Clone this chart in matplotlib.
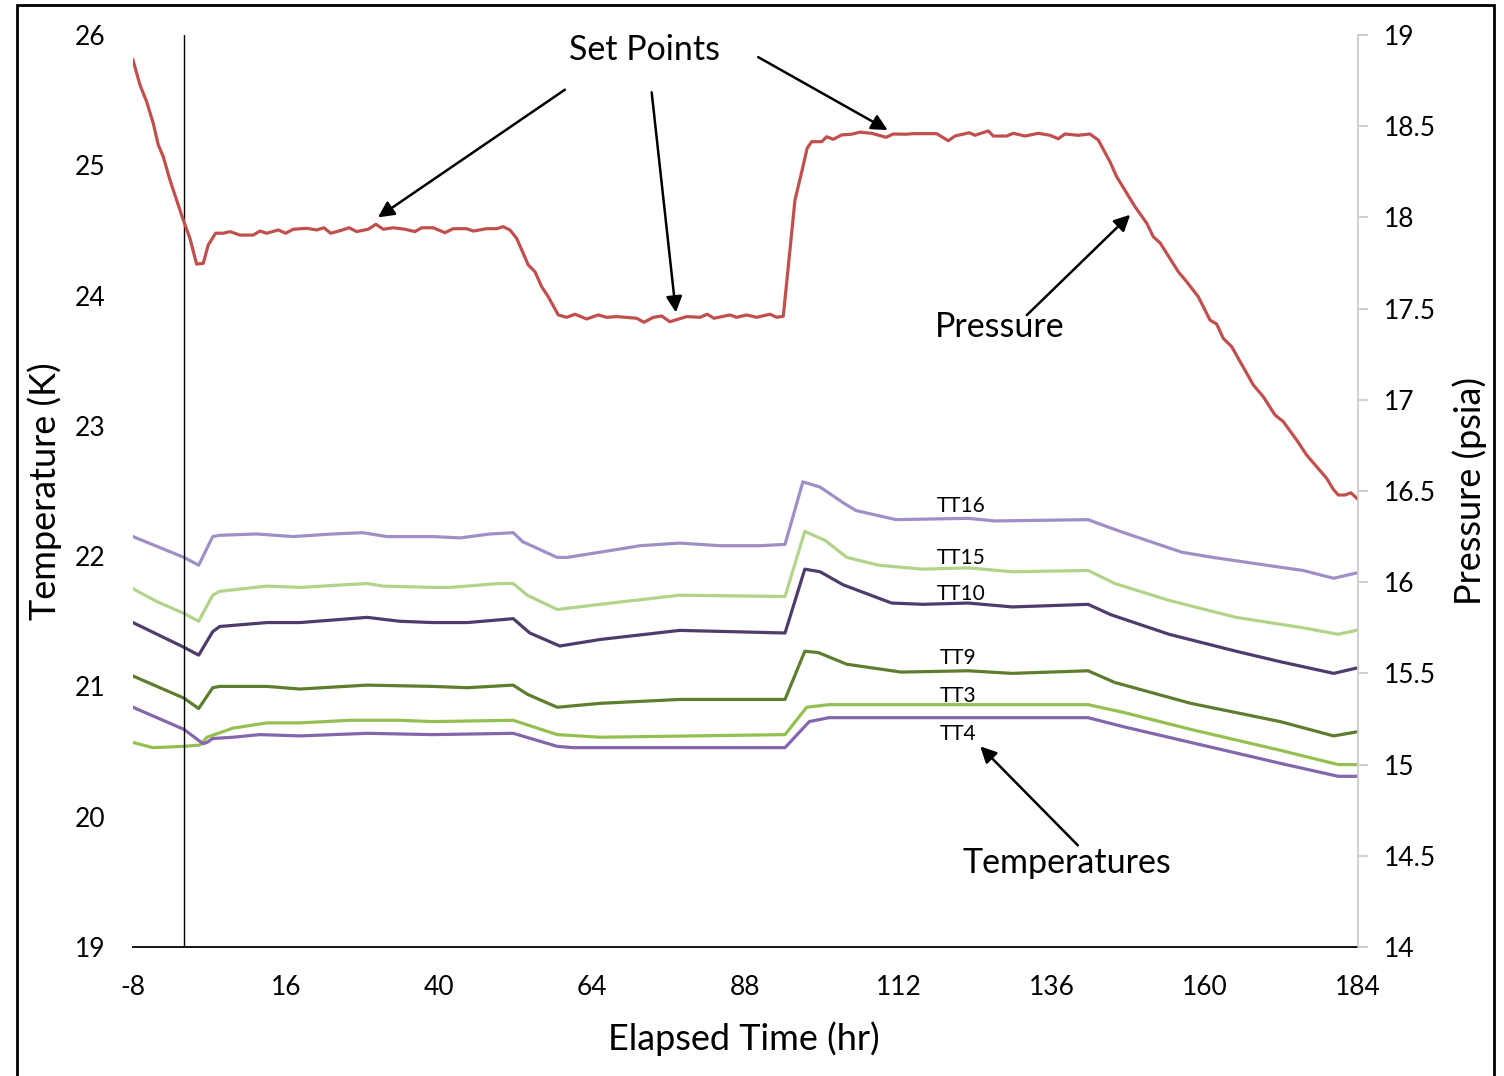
import matplotlib
matplotlib.use("Agg")
import matplotlib.pyplot as plt
from matplotlib.patches import Rectangle

plt.rcParams['font.family'] = ['Lato', 'DejaVu Sans']

# Pressure (psia) on the right axis
p_hr = [-8.0, -6.90, -5.85, -4.82, -4.03, -3.25, -2.20, -1.15, -0.12, 0.93, 1.98, 3.02,
        3.80, 4.96, 6.15, 7.20, 8.77, 10.86, 11.91, 12.96, 14.77, 15.93, 17.13, 19.23,
        20.79, 21.94, 22.99, 24.45, 25.90, 27.06, 28.88, 30.09, 31.23, 32.80, 34.63,
        36.20, 37.25, 39.07, 40.90, 42.20, 44.30, 45.34, 47.44, 49.01, 50.04, 51.09,
        52.14, 53.96, 55.01, 56.06, 57.09, 58.66, 59.98, 61.28, 63.11, 64.93, 66.25,
        67.81, 70.95, 72.09, 73.55, 74.87, 76.17, 78.79, 80.87, 82.01, 83.06, 85.57,
        86.62, 88.19, 89.76, 91.84, 92.89, 93.93, 94.71, 95.76, 96.89, 97.67, 98.38,
        99.95, 100.73, 101.76, 103.08, 104.65, 105.95, 107.78, 110.03, 111.17, 113.27,
        114.30, 117.97, 119.79, 120.84, 123.08, 123.97, 126.06, 126.84, 128.94, 129.98,
        131.81, 133.90, 135.73, 137.03, 138.08, 140.16, 142.00, 143.30, 145.13, 146.18,
        146.97, 149.05, 150.89, 151.92, 152.97, 155.84, 157.16, 158.97, 160.81, 161.86,
        162.89, 164.21, 166.56, 167.60, 169.16, 170.99, 172.30, 174.40, 175.96, 177.53,
        179.10, 180.14, 180.92, 181.97, 182.91, 184.0]
p_psia = [18.863, 18.726, 18.634, 18.516, 18.397, 18.333, 18.205, 18.095, 17.986, 17.885,
          17.744, 17.748, 17.849, 17.913, 17.913, 17.922, 17.903, 17.903, 17.925, 17.913,
          17.931, 17.913, 17.935, 17.940, 17.931, 17.943, 17.913, 17.927, 17.943, 17.922,
          17.935, 17.962, 17.935, 17.943, 17.935, 17.922, 17.943, 17.943, 17.916, 17.938,
          17.938, 17.925, 17.938, 17.938, 17.949, 17.931, 17.885, 17.739, 17.702, 17.620,
          17.565, 17.465, 17.452, 17.469, 17.443, 17.465, 17.452, 17.456, 17.447, 17.425,
          17.452, 17.459, 17.428, 17.456, 17.452, 17.469, 17.447, 17.465, 17.452, 17.465,
          17.452, 17.469, 17.452, 17.458, 17.730, 18.095, 18.260, 18.379, 18.415, 18.415,
          18.442, 18.428, 18.452, 18.456, 18.467, 18.461, 18.439, 18.457, 18.456, 18.459,
          18.459, 18.420, 18.446, 18.464, 18.450, 18.474, 18.446, 18.446, 18.461, 18.446,
          18.461, 18.450, 18.431, 18.457, 18.450, 18.457, 18.424, 18.305, 18.223, 18.178,
          18.059, 17.968, 17.894, 17.861, 17.702, 17.647, 17.565, 17.437, 17.415, 17.337,
          17.291, 17.145, 17.081, 17.017, 16.917, 16.880, 16.779, 16.697, 16.633, 16.569,
          16.509, 16.478, 16.478, 16.490, 16.454]

# Temperatures (K) on the left axis
tt16_hr = [-8, 0, 2.3, 4.5, 5.6, 11.4, 17.1, 23.3, 28.0, 31.8, 39.0, 43.3, 48.0, 51.6,
           53.1, 55.8, 58.5, 60.0, 65.2, 71.5, 77.7, 84.0, 90.3, 94.2, 97.0, 99.7, 103.3,
           105.3, 111.6, 122.9, 127.1, 141.7, 143.9, 147.3, 156.4, 161.3, 171.1, 175.4,
           180.2, 183.7]
tt16_k = [22.15, 21.99, 21.93, 22.15, 22.16, 22.17, 22.15, 22.17, 22.18, 22.15, 22.15,
          22.14, 22.17, 22.18, 22.11, 22.05, 21.99, 21.99, 22.03, 22.08, 22.10, 22.08,
          22.08, 22.09, 22.57, 22.53, 22.41, 22.35, 22.28, 22.29, 22.27, 22.28, 22.24,
          22.18, 22.03, 21.99, 21.92, 21.89, 21.83, 21.87]

tt15_hr = [-8, -4.2, 0, 2.3, 4.5, 5.6, 13.0, 18.2, 28.7, 31.2, 39.0, 41.7, 49.5, 51.6,
           53.8, 58.5, 65.2, 77.7, 94.2, 97.3, 100.5, 103.9, 108.9, 115.8, 122.9, 129.8,
           141.7, 145.9, 154.4, 164.9, 175.4, 180.9, 183.7]
tt15_k = [21.75, 21.65, 21.56, 21.50, 21.70, 21.73, 21.77, 21.76, 21.79, 21.77, 21.76,
          21.76, 21.79, 21.79, 21.70, 21.59, 21.63, 21.70, 21.69, 22.19, 22.12, 21.99,
          21.93, 21.90, 21.91, 21.88, 21.89, 21.79, 21.66, 21.53, 21.45, 21.40, 21.43]

tt10_hr = [-8, -4.2, 0, 2.3, 4.5, 5.6, 13.0, 18.2, 28.7, 33.8, 39.0, 44.4, 51.6, 54.2,
           58.9, 65.2, 77.7, 94.2, 97.3, 99.7, 103.3, 110.9, 115.8, 122.9, 129.8, 141.7,
           145.3, 154.4, 164.9, 171.8, 180.2, 183.7]
tt10_k = [21.49, 21.40, 21.30, 21.24, 21.42, 21.46, 21.49, 21.49, 21.53, 21.50, 21.49,
          21.49, 21.52, 21.41, 21.31, 21.36, 21.43, 21.41, 21.90, 21.88, 21.78, 21.64,
          21.63, 21.64, 21.61, 21.63, 21.55, 21.40, 21.27, 21.19, 21.10, 21.14]

tt9_hr = [-8, 0, 2.3, 4.5, 5.6, 13.0, 18.2, 28.7, 39.0, 44.4, 51.6, 53.8, 58.5, 65.2,
          77.7, 94.2, 97.3, 99.4, 103.9, 112.4, 122.9, 129.8, 141.7, 145.9, 157.8, 171.8,
          180.2, 183.7]
tt9_k = [21.08, 20.91, 20.83, 20.99, 21.00, 21.00, 20.98, 21.01, 21.00, 20.99, 21.01,
         20.94, 20.84, 20.87, 20.90, 20.90, 21.27, 21.26, 21.17, 21.11, 21.12, 21.10,
         21.12, 21.03, 20.87, 20.73, 20.62, 20.65]

tt3_hr = [-8, -4.9, 0, 2.5, 3.6, 7.7, 13.0, 18.2, 26.0, 33.8, 39.0, 51.6, 58.5, 65.2,
          94.2, 97.6, 101.1, 115.8, 141.7, 147.3, 157.8, 171.8, 180.9, 183.7]
tt3_k = [20.57, 20.53, 20.54, 20.55, 20.61, 20.68, 20.72, 20.72, 20.74, 20.74, 20.73,
         20.74, 20.63, 20.61, 20.63, 20.84, 20.86, 20.86, 20.86, 20.80, 20.67, 20.51,
         20.40, 20.40]

tt4_hr = [-8, 0, 3.0, 3.6, 4.5, 7.7, 11.9, 18.2, 28.7, 39.0, 51.6, 58.5, 61.0, 65.2,
          94.2, 98.0, 101.1, 122.9, 141.7, 147.3, 157.8, 171.8, 180.9, 183.7]
tt4_k = [20.84, 20.67, 20.56, 20.57, 20.60, 20.61, 20.63, 20.62, 20.64, 20.63, 20.64,
         20.54, 20.53, 20.53, 20.53, 20.73, 20.76, 20.76, 20.76, 20.69, 20.57, 20.41,
         20.31, 20.31]

x_ticks = [-8, 16, 40, 64, 88, 112, 136, 160, 184]
t_ticks = [19, 20, 21, 22, 23, 24, 25, 26]
p_ticks = [14, 14.5, 15, 15.5, 16, 16.5, 17, 17.5, 18, 18.5, 19]

fig = plt.figure(figsize=(15.04, 10.76), dpi=100)
ax = fig.add_axes([0.0884, 0.1199, 0.8145, 0.8476])
ax2 = ax.twinx()

temps = [(tt16_hr, tt16_k, '#a08fc6', 'TT16'),
         (tt15_hr, tt15_k, '#b2d38a', 'TT15'),
         (tt10_hr, tt10_k, '#4e3d6c', 'TT10'),
         (tt9_hr, tt9_k, '#5f7d2e', 'TT9'),
         (tt3_hr, tt3_k, '#93c051', 'TT3'),
         (tt4_hr, tt4_k, '#8366ab', 'TT4')]
for hr, k, col, name in temps:
    ax.plot(hr, k, color=col, lw=2.3, solid_joinstyle='round')

ax2.plot(p_hr, p_psia, color='#c0504d', lw=2.3, solid_joinstyle='round')

ax.set_xlim(-8, 184)
ax.set_ylim(19, 26)
ax2.set_ylim(14, 19)
ax.set_xticks(x_ticks)
ax.set_xticklabels([str(v) for v in x_ticks])
ax.set_yticks(t_ticks)
ax2.set_yticks(p_ticks)
ax2.set_yticklabels(['%g' % v for v in p_ticks])

for a in (ax, ax2):
    for side in ('top', 'left', 'right', 'bottom'):
        a.spines[side].set_visible(False)
ax.spines['bottom'].set_visible(True)
ax.spines['bottom'].set_linewidth(1.3)
ax2.spines['right'].set_visible(True)
ax2.spines['right'].set_color('#c8c8c8')
ax2.spines['right'].set_linewidth(1.2)

# y-axis line drawn at t = 0
ax.axvline(0, color='black', lw=1.0)

ax.tick_params(axis='x', length=0, pad=20, labelsize=19)
ax.tick_params(axis='y', length=0, pad=20, labelsize=19)
ax2.tick_params(axis='y', length=7, width=1.2, color='#c8c8c8', pad=12, labelsize=19)

ax.set_xlabel('Elapsed Time (hr)', fontsize=26)
ax.set_ylabel('Temperature (K)', fontsize=26)
ax2.set_ylabel('Pressure (psia)', fontsize=26)
ax.xaxis.set_label_coords(0.499, -0.081)
ax.yaxis.set_label_coords(-0.058, 0.5)
ax2.yaxis.set_label_coords(1.077, 0.5)

arrow = dict(arrowstyle='-|>', color='black', lw=1.8, mutation_scale=24,
             shrinkA=0, shrinkB=0)

ax.text(72.1, 25.885, 'Set Points', fontsize=24.5, ha='center', va='center')
ax.annotate('', xy=(30.4, 24.60), xytext=(59.7, 25.58), arrowprops=arrow)
ax.annotate('', xy=(77.1, 23.87), xytext=(73.3, 25.56), arrowprops=arrow)
ax.annotate('', xy=(110.3, 25.27), xytext=(90.0, 25.83), arrowprops=arrow)

ax.text(127.9, 23.76, 'Pressure', fontsize=24.5, ha='center', va='center')
ax.annotate('', xy=(148.3, 24.62), xytext=(132.1, 23.85), arrowprops=arrow)

ax.text(138.4, 19.645, 'Temperatures', fontsize=24.5, ha='center', va='center')
ax.annotate('', xy=(124.8, 20.54), xytext=(140.1, 19.78), arrowprops=arrow)

label_pos = {'TT16': (121.8, 22.385), 'TT15': (121.8, 21.986), 'TT10': (121.8, 21.71),
             'TT9': (121.3, 21.218), 'TT3': (121.3, 20.927), 'TT4': (121.3, 20.635)}
for name, (lx, ly) in label_pos.items():
    ax.text(lx, ly, name, fontsize=15, ha='center', va='center')

# outer frame of the figure
fig.patches.append(Rectangle((0.0113, -0.01), 0.9821, 1.0054, transform=fig.transFigure,
                             fill=False, edgecolor='black', lw=2.0))

fig.savefig('out.png', dpi=100)
